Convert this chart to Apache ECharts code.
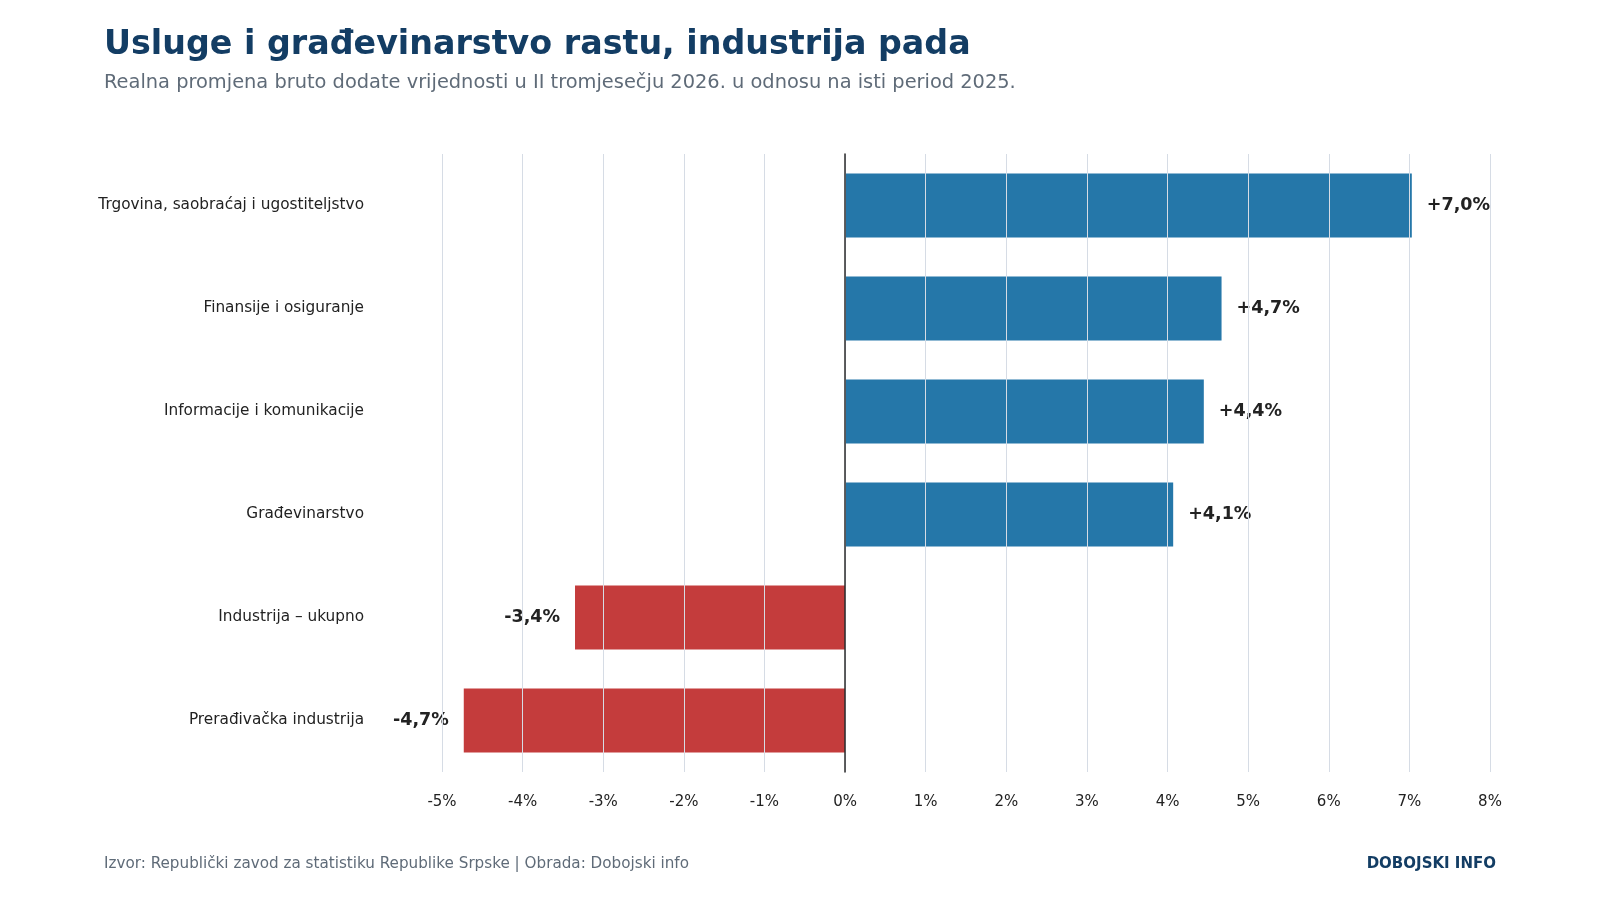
<!DOCTYPE html>
<html><head><meta charset="utf-8">
<script src="https://cdn.jsdelivr.net/npm/echarts@6/dist/echarts.min.js"></script>
<style>html,body{margin:0;padding:0;background:#fff}#c{width:1600px;height:900px}</style>
</head><body><div id="c"></div>
<script>
const categories = ['Trgovina, saobraćaj i ugostiteljstvo','Finansije i osiguranje','Informacije i komunikacije','Građevinarstvo','Industrija – ukupno','Prerađivačka industrija'];
const values = [7.03, 4.67, 4.45, 4.07, -3.35, -4.73];
const labels = ['+7,0%','+4,7%','+4,4%','+4,1%','-3,4%','-4,7%'];
const chart = echarts.init(document.getElementById('c'));
const font = 'DejaVu Sans';
chart.setOption({
  textStyle:{fontFamily:font},
  title:[
    {text:'Usluge i građevinarstvo rastu, industrija pada',left:99,top:24,textStyle:{fontFamily:font,fontSize:33.3,fontWeight:'bold',color:'#133d64'}},
    {text:'Realna promjena bruto dodate vrijednosti u II tromjesečju 2026. u odnosu na isti period 2025.',left:99,top:68,textStyle:{fontFamily:font,fontSize:19.4,fontWeight:'normal',color:'#5f6b78'}},
    {text:'Izvor: Republički zavod za statistiku Republike Srpske | Obrada: Dobojski info',left:99,top:852,textStyle:{fontFamily:font,fontSize:15.2,fontWeight:'normal',color:'#5f6b78'}},
    {text:'DOBOJSKI INFO',right:99,top:852,textStyle:{fontFamily:font,fontSize:15,fontWeight:'bold',color:'#133d64'}}
  ],
  grid:{left:442,right:110,top:154,bottom:128},
  xAxis:{type:'value',min:-5,max:8,interval:1,z:5,
    axisLabel:{formatter:v=>v+'%',color:'#222',fontSize:15,margin:23},
    splitLine:{show:true,lineStyle:{color:'#d6dce5',width:1}},
    axisLine:{show:false},axisTick:{show:false}},
  yAxis:{type:'category',data:categories,inverse:true,
    axisLabel:{color:'#222',fontSize:15.3,margin:78},
    axisLine:{show:true,onZero:true,lineStyle:{color:'#2b2b2b',width:1.5}},axisTick:{show:false},z:6},
  series:[{type:'bar',z:1,barWidth:64,
    data:values.map((v,i)=>({value:v,itemStyle:{color:v>=0?'#2577a9':'#c43c3c'},
      label:{show:true,position:v>=0?'right':'left',distance:15,formatter:labels[i],fontSize:17.5,fontWeight:'bold',color:'#222'}}))}]
});
</script></body></html>
